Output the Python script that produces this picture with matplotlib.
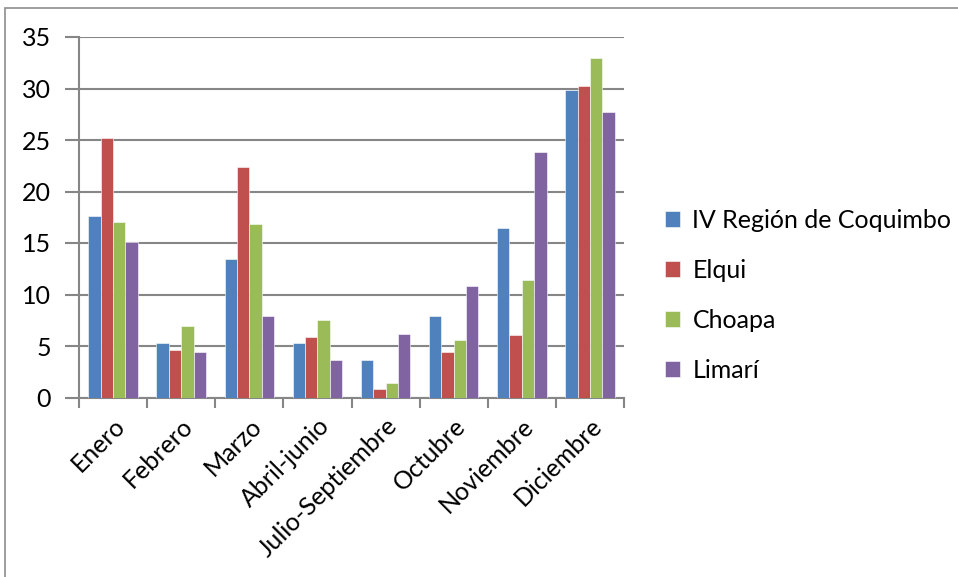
import numpy as np
import matplotlib
matplotlib.use("Agg")
import matplotlib.pyplot as plt
from matplotlib.patches import Rectangle

plt.rcParams['font.family'] = ['Lato', 'DejaVu Sans']

categorias = ["Enero", "Febrero", "Marzo", "Abril-junio", "Julio-Septiembre",
              "Octubre", "Noviembre", "Diciembre"]
series = ["IV Región de Coquimbo", "Elqui", "Choapa", "Limarí"]
coquimbo = [17.6, 5.3, 13.4, 5.3, 3.6, 7.9, 16.5, 29.9]
elqui = [25.2, 4.6, 22.4, 5.9, 0.8, 4.4, 6.1, 30.2]
choapa = [17.0, 6.9, 16.8, 7.5, 1.4, 5.6, 11.4, 33.0]
limari = [15.1, 4.4, 7.9, 3.6, 6.2, 10.8, 23.8, 27.7]
colores = ["#4F81BD", "#C0504D", "#9BBB59", "#8064A2"]

valores = [coquimbo, elqui, choapa, limari]

fig = plt.figure(figsize=(9.58, 5.77), dpi=100)
# marco del area del grafico (recortado como en el original)
fig.patches.append(Rectangle((5/958, -0.1), 1.2, 1 - 8/577 + 0.1,
                             transform=fig.transFigure, fill=False,
                             edgecolor="#8c8c8c", linewidth=1.2))

ax = fig.add_axes([79/958, 1 - 397.5/577, 545/958, 360.5/577])

x = np.arange(len(categorias))
ancho = 1 / 5.5
for i, (nombre, vals) in enumerate(zip(series, valores)):
    pos = x - 2 * ancho + (i + 0.5) * ancho
    ax.bar(pos, vals, width=ancho, color=colores[i], label=nombre,
           edgecolor="white", linewidth=0.4, zorder=3)

ax.set_xlim(-0.5, len(categorias) - 0.5)
ax.set_ylim(0, 35)
ax.set_yticks(np.arange(0, 36, 5))
ax.yaxis.grid(True, color="#868686", linewidth=1.5, zorder=0)
ax.set_axisbelow(True)

ax.set_xticks(np.arange(-0.5, len(categorias), 1))
ax.set_xticklabels([])
ax.set_xticks(x, minor=True)
ax.set_xticklabels(categorias, minor=True, rotation=45, ha="right",
                   rotation_mode="anchor", fontsize=18)
ax.tick_params(axis="x", which="minor", length=0, pad=12)
ax.tick_params(axis="x", which="major", length=7, width=1.5, color="#868686")
ax.tick_params(axis="y", length=10, width=1.5, color="#868686", labelsize=18, pad=10)

for lado in ["top", "right"]:
    ax.spines[lado].set_visible(False)
for lado in ["left", "bottom"]:
    ax.spines[lado].set_color("#868686")
    ax.spines[lado].set_linewidth(1.5)

ax.legend(loc="center left", bbox_to_anchor=(1.075, 0.283), frameon=False,
          fontsize=18, handlelength=0.6, handleheight=0.6, handletextpad=0.5,
          labelspacing=1.08, borderpad=0, borderaxespad=0)

fig.savefig("out.png", dpi=100)
